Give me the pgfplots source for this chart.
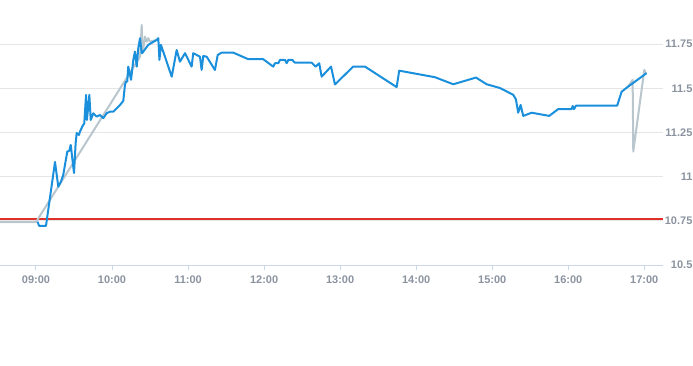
\documentclass[border=0pt]{standalone}
\usepackage{fontspec}
\setmainfont{Liberation Sans}
\usepackage{pgfplots}
\pgfplotsset{compat=1.18}
\definecolor{lineblue}{HTML}{1A8FDC}
\definecolor{linegray}{HTML}{B9C6CE}
\definecolor{gridgray}{HTML}{E6E6E6}
\definecolor{axisgray}{HTML}{CCD6EB}
\definecolor{labelgray}{HTML}{8A939F}
\definecolor{limitred}{HTML}{E0302A}
\begin{document}
\begin{tikzpicture}
\begin{axis}[
  at={(0,0)}, anchor=south west,
  scale only axis, width=497pt, height=198.75pt,
  xmin=-28.4, xmax=494.5, ymin=10.5, ymax=12,
  axis x line*=bottom, axis y line*=right,
  x axis line style={draw=axisgray, line width=0.75pt, -},
  y axis line style={draw=none},
  xtick={0,60,120,180,240,300,360,420,480},
  xticklabels={09:00,10:00,11:00,12:00,13:00,14:00,15:00,16:00,17:00},
  xtick align=outside,
  xtick style={draw=axisgray, line width=0.75pt},
  major tick length=3.75pt,
  ytick={10.5,10.75,11,11.25,11.5,11.75},
  yticklabels={10.5,10.75,11,11.25,11.5,11.75},
  ytick style={draw=none},
  ymajorgrids, grid style={draw=gridgray, line width=0.75pt},
  tick label style={font=\fontsize{8.25}{9}\selectfont\bfseries, text=labelgray},
  yticklabel style={anchor=east, inner sep=0pt, xshift=22.5pt},
  xticklabel style={yshift=-1pt},
  clip=false,
]
\addplot[limitred, line width=1.4pt, mark=none, forget plot] coordinates {(-28.4,10.759) (494.5,10.759)};
% gray series (visible parts)
\addplot[linegray, line width=1.5pt, line join=round] coordinates {
(-28.4,10.743) (0,10.743) (82.1,11.679) (83.4,11.859) (84.2,11.699) (86.0,11.793)
(87.3,11.764) (88.6,11.784) (89.9,11.764) (95.2,11.774)
};
\addplot[linegray, line width=1.5pt, line join=round] coordinates {
(467.3,11.510) (470.8,11.548) (471.3,11.142) (480.0,11.604) (481.3,11.586)
};
% blue series
\addplot[lineblue, line width=1.5pt, line join=round] coordinates {
(1.3,10.745) (2.4,10.722) (7.9,10.722) (15.0,11.083) (17.6,10.943) (19.7,10.972)
(21.5,11.010) (24.7,11.142) (26.3,11.147) (27.4,11.180) (30.0,11.021) (31.3,11.191)
(32.1,11.247) (33.9,11.236) (34.7,11.255) (36.5,11.283) (38.1,11.302) (39.5,11.463)
(40.2,11.321) (42.1,11.463) (43.2,11.321) (45.2,11.359) (47.9,11.340) (50.5,11.349)
(53.1,11.331) (55.8,11.359) (58.4,11.368) (61.0,11.368) (63.7,11.387) (66.3,11.406)
(68.9,11.429) (70.2,11.519) (71.0,11.538) (72.0,11.538) (72.8,11.623) (75.0,11.548)
(76.8,11.661) (78.1,11.708) (79.5,11.623) (80.7,11.727) (82.1,11.784) (83.4,11.699)
(84.7,11.708) (88.6,11.746) (95.2,11.774) (96.5,11.784) (97.4,11.661) (98.6,11.746)
(100.4,11.708) (107.1,11.566) (111.0,11.717) (113.6,11.651) (117.6,11.699) (122.8,11.623)
(124.1,11.699) (129.4,11.679) (130.7,11.604) (132.0,11.683) (134.7,11.679) (141.2,11.604)
(143.4,11.689) (146.5,11.702) (155.7,11.702) (167.5,11.665) (179.3,11.665) (187.2,11.623)
(188.6,11.642) (191.2,11.642) (192.5,11.661) (196.5,11.661) (197.8,11.642) (199.1,11.661)
(202.2,11.661) (204.4,11.645) (217.5,11.645) (220.7,11.623) (223.5,11.642) (225.4,11.566)
(232.8,11.623) (235.9,11.522) (250.3,11.623) (259.6,11.623) (284.6,11.507) (286.6,11.600)
(314.8,11.563) (329.3,11.523) (347.2,11.561) (355.6,11.523) (366.1,11.502) (376.6,11.463)
(378.7,11.438) (380.5,11.362) (382.4,11.406) (384.5,11.344) (391.1,11.362) (405.0,11.344)
(412.1,11.383) (422.7,11.383) (423.5,11.400) (424.5,11.382) (426.1,11.402) (458.6,11.402)
(462.1,11.481) (467.3,11.510) (481.8,11.586)
};
\end{axis}
\pgfresetboundingbox
\path[use as bounding box] (0,-75pt) rectangle (519.75pt,198.75pt);
\end{tikzpicture}
\end{document}
